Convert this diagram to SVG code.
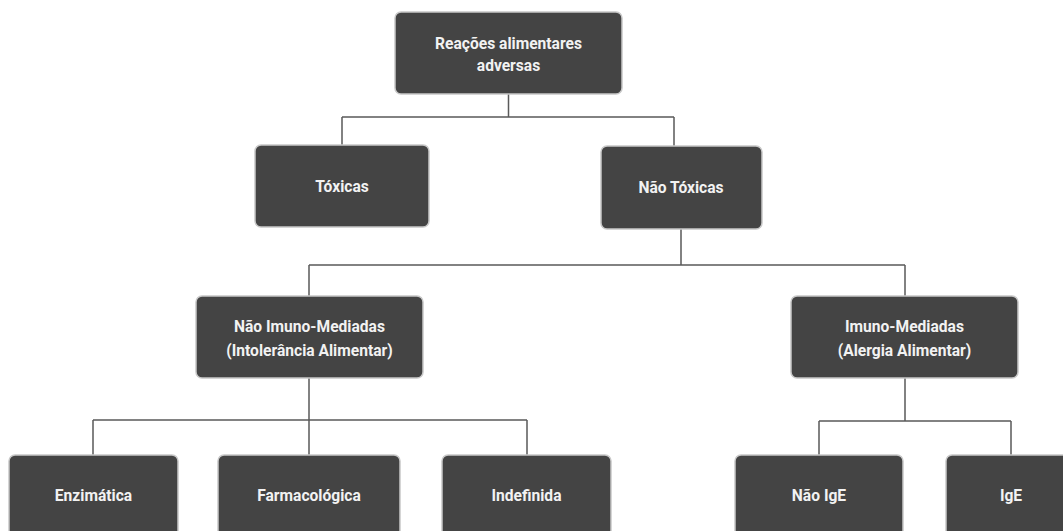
<svg xmlns="http://www.w3.org/2000/svg" width="1063" height="531" viewBox="0 0 1063 531">
<style>
.box{fill:#444444;stroke:#c8c8c8;stroke-width:1.5}
.t{font-family:Roboto,"Liberation Sans",sans-serif;font-weight:bold;font-size:15.6px;fill:#f2f2f2;text-anchor:middle}
.c{fill:none;stroke:#5a5a5a;stroke-width:1.5}
</style>
<rect width="1063" height="531" fill="#ffffff"/>
<g id="connectors">
<path class="c" d="M508.5 94 V117 M342 117 H674 M342 117 V145 M674 117 V146"/>
<path class="c" d="M681 229 V265 M309 265 H905 M309 265 V296 M905 265 V296"/>
<path class="c" d="M309 378 V420 M93 420 H527 M93 420 V455 M309 420 V455 M527 420 V455"/>
<path class="c" d="M905 378 V421 M819 421 H1011 M819 421 V455 M1011 421 V455"/>
</g>
<g id="n-root"><rect class="box" x="395" y="12" width="227" height="82" rx="6"/><text class="t" x="508.5" y="48.5">Reações alimentares</text><text class="t" x="508.5" y="70.5">adversas</text></g>
<g id="n-toxicas"><rect class="box" x="255" y="145" width="174" height="82" rx="6"/><text class="t" x="342" y="191.5">Tóxicas</text></g>
<g id="n-naotoxicas"><rect class="box" x="601" y="146" width="161" height="83" rx="6"/><text class="t" x="681" y="192.5">Não Tóxicas</text></g>
<g id="n-naoimuno"><rect class="box" x="196" y="296" width="227" height="82" rx="6"/><text class="t" x="309.5" y="331.5">Não Imuno-Mediadas</text><text class="t" x="309.5" y="355.5">(Intolerância Alimentar)</text></g>
<g id="n-imuno"><rect class="box" x="791" y="296" width="227" height="82" rx="6"/><text class="t" x="904.5" y="331.5">Imuno-Mediadas</text><text class="t" x="904.5" y="355.5">(Alergia Alimentar)</text></g>
<g id="n-enzimatica"><rect class="box" x="9" y="455" width="169" height="82" rx="6"/><text class="t" x="93.5" y="500.5">Enzimática</text></g>
<g id="n-farmacologica"><rect class="box" x="218" y="455" width="182" height="82" rx="6"/><text class="t" x="309" y="500.5">Farmacológica</text></g>
<g id="n-indefinida"><rect class="box" x="442" y="455" width="169" height="82" rx="6"/><text class="t" x="526.5" y="500.5">Indefinida</text></g>
<g id="n-naoige"><rect class="box" x="735" y="455" width="168" height="82" rx="6"/><text class="t" x="819" y="500.5">Não IgE</text></g>
<g id="n-ige"><rect class="box" x="946" y="455" width="130" height="82" rx="6"/><text class="t" x="1011" y="500.5">IgE</text></g>
</svg>
